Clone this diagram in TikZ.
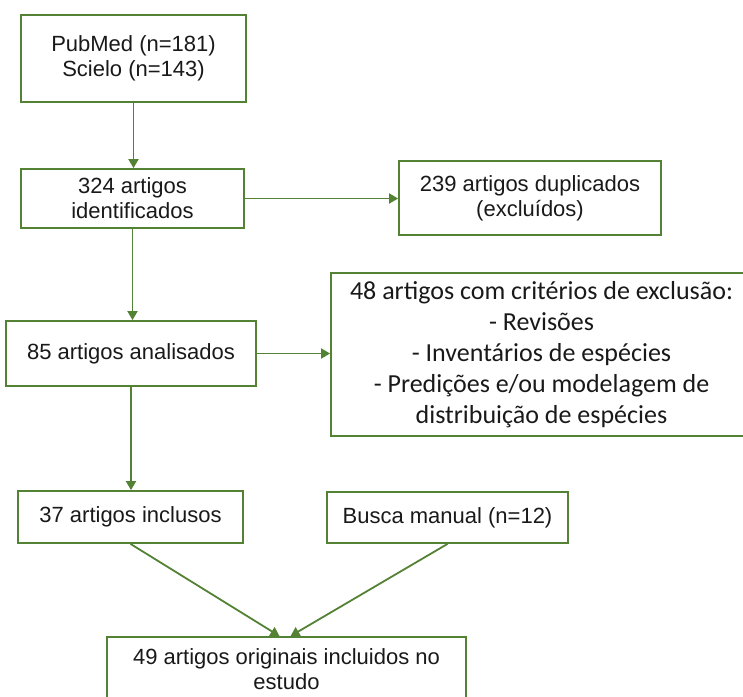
\documentclass[tikz,border=0pt]{standalone}
\usepackage{fontspec}
\setmainfont{Liberation Sans}
\newfontfamily\calibri{Carlito}
\usetikzlibrary{arrows.meta}
\definecolor{boxgreen}{RGB}{84,130,53}

\begin{document}
\begin{tikzpicture}[x=1pt, y=-1pt,
  box/.style={draw=boxgreen, line width=1.8pt, align=center, inner sep=0pt, text=black!90, font=\fontsize{22}{25}\selectfont},
  arr/.style={draw=boxgreen, line width=1.8pt, -{Triangle[width=10pt,length=9pt]}}]
\useasboundingbox (0,0) rectangle (743,696);
\clip (0,0) rectangle (743,696);

\node[box, minimum width=225pt, minimum height=87pt] (src) at (133.5,58.5) {PubMed (n=181)\\Scielo (n=143)};
\node[box, minimum width=223pt, minimum height=59pt] (ident) at (132.5,198.5) {324 artigos\\identificados};
\node[box, minimum width=262pt, minimum height=74pt] (dup) at (530,198) {239 artigos duplicados\\(exclu\'idos)};
\node[box, minimum width=250pt, minimum height=65pt] (anal) at (131,353.5) {85 artigos analisados};
\node[box, minimum width=421pt, minimum height=163pt, font=\calibri\fontsize{26}{31}\selectfont] (crit) at (541.5,354.5) {48 artigos com crit\'erios de exclus\~ao:\\- Revis\~oes\\- Invent\'arios de esp\'ecies\\- Predi\c{c}\~oes e/ou modelagem de\\distribui\c{c}\~ao de esp\'ecies};
\node[box, minimum width=225pt, minimum height=52pt] (incl) at (130.5,517) {37 artigos inclusos};
\node[box, minimum width=241pt, minimum height=51pt] (manual) at (447.5,517.5) {Busca manual (n=12)};
\node[box, minimum width=359pt, minimum height=65pt] (final) at (286.5,669.5) {49 artigos originais incluidos no\\estudo};

\draw[arr] (src) -- (src |- ident.north);
\draw[arr] (ident) -- (ident |- anal.north);
\draw[arr] (anal) -- (anal |- incl.north);
\draw[arr] (ident.east) -- (ident.east -| dup.west);
\draw[arr] (anal.east) -- (anal.east -| crit.west);
\draw[arr] (incl.south) -- ([xshift=-7pt]final.north);
\draw[arr] (manual.south) -- ([xshift=4pt]final.north);

\end{tikzpicture}
\end{document}
